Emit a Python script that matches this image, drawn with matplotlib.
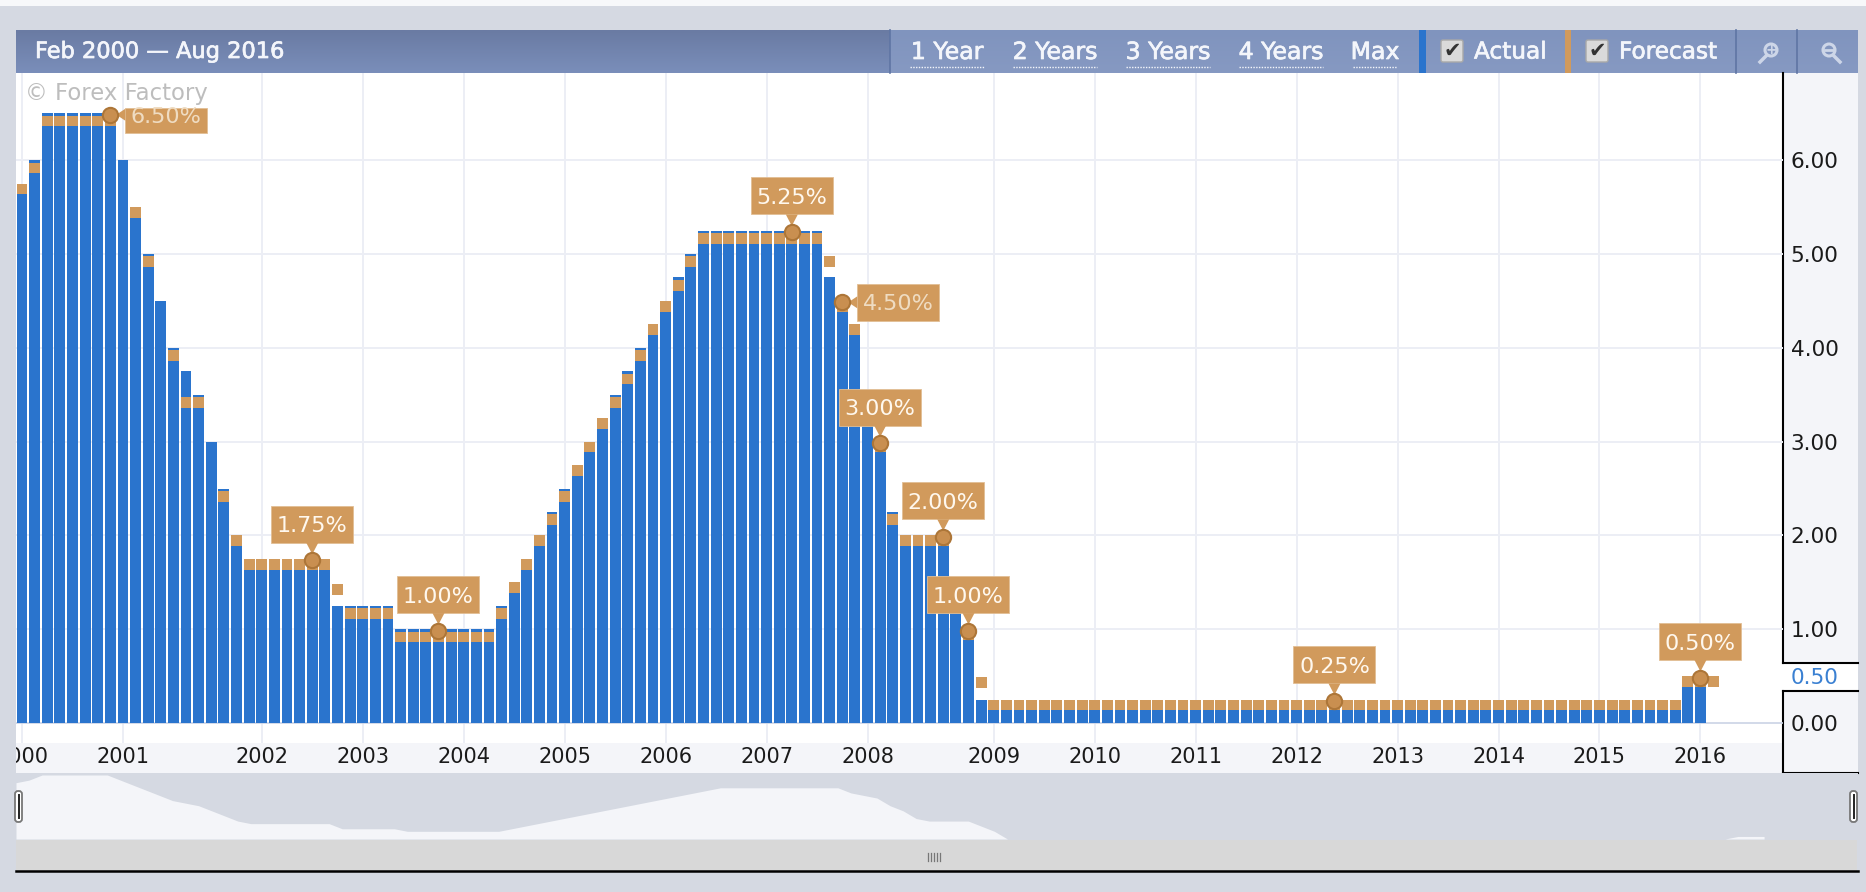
import numpy as np
import matplotlib
matplotlib.use("Agg")
import matplotlib.pyplot as plt
import matplotlib.patheffects as pe
from matplotlib.patches import Rectangle, Polygon, FancyBboxPatch

W, H = 1866, 892
nan = float("nan")

# one value per FOMC meeting
actual = [
    5.75, 6.0, 6.5, 6.5, 6.5, 6.5, 6.5, 6.5,  # 2000
    6.0, 5.5, 5.0, 4.5, 4.0, 3.75, 3.5, 3.0, 2.5, 2.0, 1.75,  # 2001
    1.75, 1.75, 1.75, 1.75, 1.75, 1.75, 1.25, 1.25,  # 2002
    1.25, 1.25, 1.25, 1.0, 1.0, 1.0, 1.0, 1.0,  # 2003
    1.0, 1.0, 1.0, 1.25, 1.5, 1.75, 2.0, 2.25,  # 2004
    2.5, 2.75, 3.0, 3.25, 3.5, 3.75, 4.0, 4.25,  # 2005
    4.5, 4.75, 5.0, 5.25, 5.25, 5.25, 5.25, 5.25,  # 2006
    5.25, 5.25, 5.25, 5.25, 5.25, 4.75, 4.5, 4.25,  # 2007
    3.5, 3.0, 2.25, 2.0, 2.0, 2.0, 2.0, 1.5, 1.0, 0.25,  # 2008
    0.25, 0.25, 0.25, 0.25, 0.25, 0.25, 0.25, 0.25,  # 2009
    0.25, 0.25, 0.25, 0.25, 0.25, 0.25, 0.25, 0.25,  # 2010
    0.25, 0.25, 0.25, 0.25, 0.25, 0.25, 0.25, 0.25,  # 2011
    0.25, 0.25, 0.25, 0.25, 0.25, 0.25, 0.25, 0.25,  # 2012
    0.25, 0.25, 0.25, 0.25, 0.25, 0.25, 0.25, 0.25,  # 2013
    0.25, 0.25, 0.25, 0.25, 0.25, 0.25, 0.25, 0.25,  # 2014
    0.25, 0.25, 0.25, 0.25, 0.25, 0.25, 0.25, 0.5,  # 2015
    0.5, nan,  # 2016
]
forecast = [
    5.75, 5.975, 6.475, 6.475, 6.475, 6.475, 6.475, 6.475,
    nan, 5.5, 4.975, nan, 3.975, 3.475, 3.475, nan, 2.475, 2.0, 1.75,
    1.75, 1.75, 1.75, 1.75, 1.75, 1.75, 1.48, 1.225,
    1.225, 1.225, 1.225, 0.975, 0.975, 0.975, 0.975, 0.975,
    0.975, 0.975, 0.975, 1.225, 1.5, 1.75, 2.0, 2.225,
    2.475, 2.75, 3.0, 3.25, 3.475, 3.725, 3.975, 4.25,
    4.5, 4.725, 4.975, 5.225, 5.225, 5.225, 5.225, 5.225,
    5.225, 5.225, 5.225, 5.225, 5.225, 4.98, 4.5, 4.25,
    3.5, 3.0, 2.225, 2.0, 2.0, 2.0, 2.0, 1.5, 1.0, 0.49,
    0.25, 0.25, 0.25, 0.25, 0.25, 0.25, 0.25, 0.25,
    0.25, 0.25, 0.25, 0.25, 0.25, 0.25, 0.25, 0.25,
    0.25, 0.25, 0.25, 0.25, 0.25, 0.25, 0.25, 0.25,
    0.25, 0.25, 0.25, 0.25, 0.25, 0.25, 0.25, 0.25,
    0.25, 0.25, 0.25, 0.25, 0.25, 0.25, 0.25, 0.25,
    0.25, 0.25, 0.25, 0.25, 0.25, 0.25, 0.25, 0.25,
    0.25, 0.25, 0.25, 0.25, 0.25, 0.25, 0.25, 0.5,
    0.5, 0.5,
]
overview = [f if a != a else a for a, f in zip(actual, forecast)]

years = ["2000", "2001", "2002", "2003", "2004", "2005", "2006", "2007", "2008",
         "2009", "2010", "2011", "2012", "2013", "2014", "2015", "2016"]
year_pos = [0, 8, 19, 27, 35, 43, 51, 59, 67, 77, 85, 93, 101, 109, 117, 125, 133]
rate_ticks = [0, 1, 2, 3, 4, 5, 6]

label_pos = [7, 23, 33, 61, 65, 68, 73, 75, 104, 133]
label_val = [6.5, 1.75, 1.0, 5.25, 4.5, 3.0, 2.0, 1.0, 0.25, 0.5]
label_txt = ["6.50%", "1.75%", "1.00%", "5.25%", "4.50%", "3.00%", "2.00%", "1.00%", "0.25%", "0.50%"]
label_side = ["right", "top", "top", "top", "right", "top", "top", "top", "top", "top"]

ranges = ["1 Year", "2 Years", "3 Years", "4 Years", "Max"]
range_x = [947, 1055, 1168, 1281, 1375]
range_w = [74, 84, 84, 84, 44]

BLUE = "#2A74CD"
ORANGE = "#D19A5C"
PANEL = "#D5D9E2"
STRIP = "#F4F5F9"
GRID = "#ECEEF5"
HEAD_TXT = "#F4F6FB"
ICON = "#CDD6E8"

plt.rcParams["font.family"] = ["DejaVu Sans"]
fig = plt.figure(figsize=(W / 100, H / 100), dpi=100, facecolor=PANEL)
thick = [pe.withStroke(linewidth=0.5, foreground=HEAD_TXT)]


def axes_px(l, t, r, b, z):
    return fig.add_axes([l / W, 1 - b / H, (r - l) / W, (b - t) / H], zorder=z)


# chrome behind the plot, drawn in pixel coordinates
bg = axes_px(0, 0, W, H, 0)
bg.set_xlim(0, W)
bg.set_ylim(H, 0)
bg.axis("off")
bg.add_patch(Rectangle((0, 0), W, 6, color="#F7F8FA", lw=0))
grad = np.linspace(0, 1, 30).reshape(-1, 1)
cmap_l = matplotlib.colors.LinearSegmentedColormap.from_list("h", ["#6A7BA3", "#7A8EBA"])
cmap_r = matplotlib.colors.LinearSegmentedColormap.from_list("h", ["#8094BE", "#8699C2"])
bg.imshow(grad, extent=(16, 890, 73, 30), aspect="auto", cmap=cmap_l)
bg.imshow(grad, extent=(890, 1858, 73, 30), aspect="auto", cmap=cmap_r)
bg.set_xlim(0, W)
bg.set_ylim(H, 0)
for x in [890, 1736, 1797]:
    bg.plot([x, x], [30, 73], color="#5F75A4", lw=1.2)
bg.add_patch(Rectangle((1419, 30), 7, 43, color=BLUE, lw=0))
bg.add_patch(Rectangle((1565, 30), 6, 43, color=ORANGE, lw=0))

bg.text(35, 52, "Feb 2000 \u2014 Aug 2016", color=HEAD_TXT, fontsize=16.2, va="center", path_effects=thick)
for name, x, w in zip(ranges, range_x, range_w):
    bg.text(x, 52, name, color=HEAD_TXT, fontsize=17, ha="center", va="center", path_effects=thick)
    bg.plot([x - w / 2, x + w / 2], [67, 67], color=HEAD_TXT, lw=1, ls=(0, (1, 1)))
for x, name, tx in [(1441, "Actual", 1474), (1586, "Forecast", 1619)]:
    bg.add_patch(FancyBboxPatch((x + 1, 41), 20, 20, boxstyle="round,pad=1,rounding_size=2", fc="#DADADA", ec="#A9A9A9", lw=1))
    bg.text(x + 11, 51, "\u2714", color="#333333", fontsize=15, ha="center", va="center")
    bg.text(tx, 52, name, color=HEAD_TXT, fontsize=16.7, va="center", path_effects=thick)
# zoom icons
bg.add_patch(plt.Circle((1771, 50), 6, fc="none", ec=ICON, lw=2.2))
bg.plot([1766, 1760], [56, 62], color=ICON, lw=2.5)
bg.text(1771, 50, "+", color=ICON, fontsize=10, ha="center", va="center", fontweight="bold")
bg.add_patch(plt.Circle((1829, 50), 6, fc="none", ec=ICON, lw=2.2))
bg.plot([1834, 1840], [56, 62], color=ICON, lw=2.5)
bg.plot([1825, 1833], [50, 50], color=ICON, lw=2)

# x strip and right hand axis panel
bg.add_patch(Rectangle((16, 73), 1767, 670, color="white", lw=0))
bg.add_patch(Rectangle((16, 743), 1767, 30, color=STRIP, lw=0))
bg.add_patch(Rectangle((1783, 73), 75, 700, color=STRIP, lw=0))
bg.add_patch(Rectangle((1783, 663), 75, 28, color="white", lw=0))
for y0, y1 in [(73, 663), (691, 774)]:
    bg.plot([1783, 1783], [y0, y1], color="black", lw=1.5)
for y in [663, 691, 773]:
    bg.plot([1783, 1858], [y, y], color="black", lw=1.5)

# main chart
ax = axes_px(16, 73, 1783, 743, 1)
ax.patch.set_alpha(0)
x0 = -0.475
ax.set_xlim(x0, x0 + 1767 / 12.62)
ax.set_ylim(-0.213, -0.213 + 670 / 93.8)
PX = 1 / 12.62
PY = 1 / 93.8
for s in ax.spines.values():
    s.set_visible(False)

for p in year_pos:
    ax.axvline(p, color=GRID, lw=1.4, zorder=1)
for r in rate_ticks[1:]:
    ax.axhline(r, color=GRID, lw=1.4, zorder=1)
ax.axhline(0, color="#CBD3E5", lw=1.2, zorder=1)

idx = np.arange(len(actual))
bar_w = 0.86
ax.bar(idx, actual, width=bar_w, color=BLUE, zorder=2)
band = 0.115
ax.bar(idx, [band] * len(forecast), bottom=np.array(forecast) - band, width=bar_w, color=ORANGE, zorder=3)

ax.set_xticks(year_pos, years)
ax.set_yticks(rate_ticks + [0.5], ["%.2f" % r for r in rate_ticks] + ["0.50"])
ax.yaxis.tick_right()
ax.tick_params(axis="x", length=0, pad=3, labelsize=15, colors="#1A1A1A")
ax.tick_params(axis="y", length=0, pad=5.5, labelsize=15.6, colors="#1A1A1A")
ax.get_yticklabels()[-1].set_color("#3A80D2")

# callouts
for p, v, t, side in zip(label_pos, label_val, label_txt, label_side):
    v = v - 0.015
    if side == "top":
        bx = p - 41 * PX
        by = v + 17.5 * PY
        tip = [(p - 6 * PX, by), (p + 6 * PX, by), (p, v + 6 * PY)]
    else:
        bx = p + 15 * PX
        by = v - 18.5 * PY
        tip = [(bx, v + 6 * PY), (bx, v - 6 * PY), (p + 6 * PX, v)]
    top = min(by + 37 * PY, 6.556)
    ax.add_patch(Rectangle((bx, by), 82 * PX, top - by, fc=ORANGE, ec="#E2BE94", lw=0.6, zorder=5, clip_on=False))
    ax.add_patch(Polygon(tip, fc=ORANGE, ec="none", zorder=5, clip_on=False))
    pale = side == "right"
    ax.text(bx + 41 * PX, by + 16.5 * PY, t, color="#EFDCC2" if pale else "#FFF8EE", fontsize=16,
            ha="center", va="center", zorder=6)
    ax.plot([p], [v], marker="o", ms=11, mfc="#C98F50", mec="#AD7638", mew=1.5, zorder=7, clip_on=False)

ax.text(x0 + 9 * PX, 6.93 - 21 * PY, "\u00a9 Forex Factory", color="#BDBDBD", fontsize=16.4, va="center", zorder=4)

# overview strip
nav = axes_px(16, 773, 1858, 839, 1)
nav.fill_between(idx, overview, 0.25, color=STRIP, lw=0)
nav.set_xlim(0, 141.2)
nav.set_ylim(0.25, 0.25 + 66 / 64 * 6.25)
nav.set_facecolor(PANEL)
nav.set_xticks([])
nav.set_yticks([])
for s in nav.spines.values():
    s.set_visible(False)

# parts on top: left edge (crops the 2000 label), handles, scrollbar
top_ax = axes_px(0, 0, W, H, 3)
top_ax.set_xlim(0, W)
top_ax.set_ylim(H, 0)
top_ax.axis("off")
top_ax.patch.set_alpha(0)
top_ax.add_patch(Rectangle((0, 73), 16, 800, color=PANEL, lw=0))
top_ax.add_patch(Rectangle((16, 840), 1841, 31, color="#D8D8D8", lw=0))
top_ax.plot([16, 1858], [871, 871], color="black", lw=1.8)
for x in [928, 931, 934, 937, 940]:
    top_ax.plot([x, x], [853, 861], color="#777777", lw=0.9)
for x in [15, 1850]:
    top_ax.add_patch(FancyBboxPatch((x + 1, 792), 5, 29, boxstyle="round,pad=1,rounding_size=3", fc="white", ec="#777777", lw=1.3))
    top_ax.plot([x + 3.5, x + 3.5], [795, 818], color="#222222", lw=1.4)

fig.savefig("out.png", dpi=100, facecolor=PANEL)
